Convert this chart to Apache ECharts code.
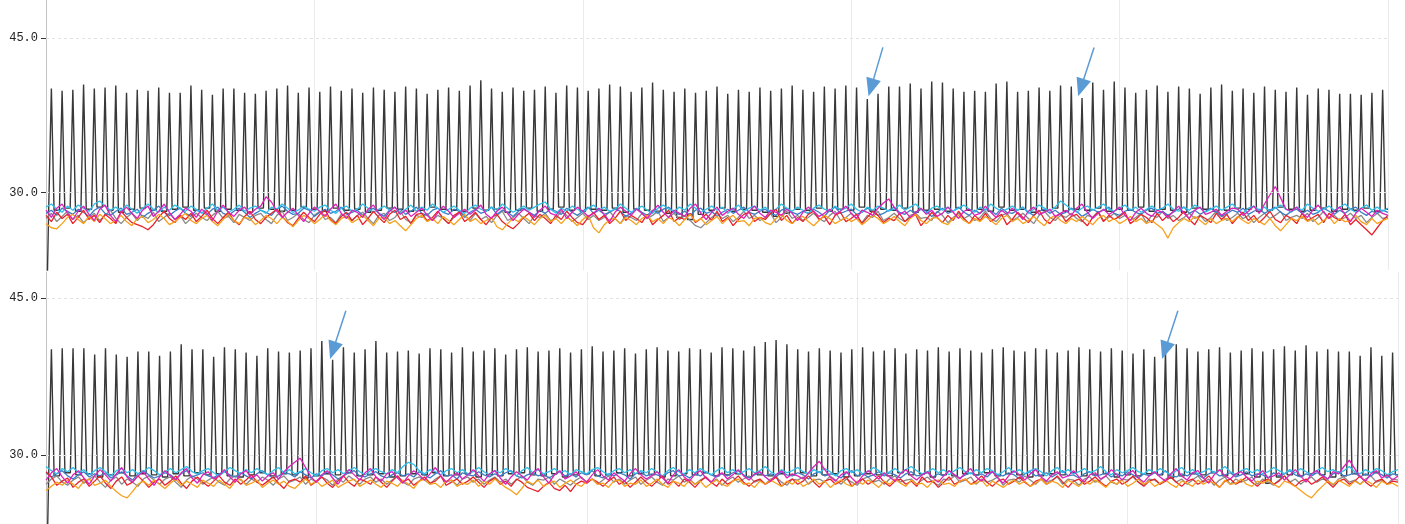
<!DOCTYPE html>
<html><head><meta charset="utf-8">
<script src="https://cdn.jsdelivr.net/npm/echarts@6/dist/echarts.min.js"></script>
<style>html,body{margin:0;padding:0;background:#fff}#c{width:1405px;height:524px}</style>
</head><body><div id="c"></div>
<script>
// ---------- y tick labels ----------
const yTickValues = [30, 45];

// ---------- TOP PANEL ----------
const blackStartTop = 15;
const peaksTop = [
40.1,39.9,40.0,40.5,40.1,40.2,40.4,39.7,40.0,39.9,40.2,39.7,39.7,40.4,40.0,39.5,40.1,40.1,39.7,39.6,39.9,40.1,40.4,39.7,
40.2,39.8,40.3,39.9,40.1,39.7,40.2,40.0,39.8,40.3,40.1,39.6,40.0,40.2,39.9,40.4,40.9,40.1,39.8,40.2,39.9,40.0,40.3,39.7,40.4,40.2,
39.9,40.1,40.5,40.3,39.8,40.2,40.7,40.0,39.8,40.1,39.7,39.9,40.3,39.6,40.0,39.8,40.2,39.9,40.1,40.4,40.0,39.8,40.3,40.1,
40.4,40.2,39.1,39.6,40.3,40.3,40.6,40.1,40.8,40.7,40.1,39.8,39.9,39.8,40.6,40.8,39.8,39.9,40.2,39.9,40.4,40.3,39.2,40.7,40.0,40.8,
40.2,39.7,40.0,40.4,39.8,40.3,40.1,39.6,40.2,40.5,39.9,40.1,39.7,40.3,40.0,39.8,40.2,
39.5,40.1,40.0,39.6,39.6,39.5,39.7,40.0];
const lowsTop = [
28.4,28.3,28.5,28.2,28.4,28.6,28.3,28.1,28.4,28.5,
28.3,28.2,28.4,28.6,28.3,28.5,28.2,28.4,28.3,28.1,
28.5,28.4,28.2,28.3,28.6,28.4,28.2,28.5,28.3,28.4,
28.1,28.3,28.5,28.4,28.2,28.3,28.6,28.4,28.3,28.2,
28.5,28.3,28.4,28.1,28.3,28.5,28.2,28.4,28.6,28.3,
28.2,28.4,28.3,28.5,28.1,28.4,28.3,28.2,28.0,27.6,
27.4,27.9,28.3,28.5,28.2,28.4,28.3,28.1,27.7,28.0,
28.4,28.3,28.5,28.2,28.4,28.3,28.6,28.2,28.4,28.3,
28.5,28.1,28.3,28.4,28.2,28.5,28.3,28.4,28.2,28.6,
28.3,28.4,28.1,28.3,28.5,28.2,28.4,28.3,28.5,28.2,
28.4,28.3,28.6,28.2,28.4,28.3,28.1,28.5,28.4,28.2,
28.3,28.5,28.4,28.2,28.3,28.6,28.4,28.2,28.3,28.5,
28.2,28.4,28.3,28.5,28.2,28.4];
const redTop = [
27.8,27.2,28.1,27.5,27.9,27.0,27.6,28.3,27.4,27.8,
27.1,27.9,27.5,27.0,28.2,27.6,27.1,26.9,26.7,26.4,
26.9,27.6,28.2,27.5,27.1,27.8,27.4,28.0,27.2,27.7,
28.3,27.5,27.0,27.6,28.1,27.3,26.9,27.7,28.2,27.4,
27.0,27.6,28.0,28.4,27.7,27.1,26.8,27.5,28.1,27.6,
27.2,27.9,28.3,27.4,27.0,27.7,28.1,27.3,27.8,26.9,
27.5,28.2,27.6,27.1,27.9,28.3,27.4,27.7,27.0,27.9,
28.0,27.3,27.6,28.2,27.5,27.0,27.8,28.1,27.2,27.6,
28.1,27.4,26.9,27.6,27.9,27.2,26.8,26.5,27.0,27.6,
28.0,27.3,27.9,27.5,27.0,27.8,27.4,28.2,27.6,27.1,
26.9,27.6,28.1,27.4,27.8,27.0,27.5,28.2,27.3,27.8,
27.5,27.1,27.9,26.9,27.4,27.8,28.3,27.2,27.6,27.4,
28.0,27.1,27.5,27.9,27.3,28.2,27.2,27.6,26.8,27.4,
27.9,28.1,27.2,27.6,27.4,28.0,28.4,27.3,27.8,27.0,
27.6,27.2,27.9,28.2,27.4,27.7,26.9,27.8,28.1,27.2,
27.5,27.9,27.0,27.6,28.2,27.8,27.1,27.5,27.3,28.0,
27.2,27.6,27.9,26.8,27.4,28.1,27.6,27.1,27.8,27.3,
28.2,27.5,27.0,27.8,27.3,28.0,27.2,27.6,27.9,26.9,
27.4,28.1,27.6,27.1,27.8,28.3,27.4,27.0,27.6,28.0,
27.2,27.7,27.9,27.3,26.8,27.6,28.1,27.2,27.8,27.4,
27.7,28.1,27.0,27.4,27.9,27.6,27.1,28.0,27.3,27.8,
27.2,27.6,28.2,27.4,26.9,27.8,27.5,27.1,28.0,27.4,
27.9,27.0,27.6,28.1,27.3,27.8,27.1,27.6,28.2,27.4,
27.1,27.8,27.5,27.0,28.0,27.3,27.6,27.9,27.1,28.0,
27.6,27.3,27.9,26.9,27.4,26.9,26.4,25.9,26.6,27.3,
27.8];
const orangeTop = [
27.0,26.6,26.5,27.0,27.6,27.9,27.4,27.0,27.7,27.2,
27.9,27.5,27.0,27.3,27.8,27.2,26.8,27.5,27.7,27.1,
27.4,27.9,27.5,26.9,27.2,27.6,28.0,27.3,27.0,27.5,
27.8,27.2,26.8,27.4,27.9,27.3,27.0,27.6,27.5,26.9,
27.3,27.8,27.5,27.0,27.6,27.2,26.7,27.3,27.8,27.5,
27.0,27.4,27.9,27.3,26.9,27.5,27.7,27.1,27.4,27.8,
27.3,26.8,27.5,27.6,27.0,27.3,26.8,26.3,26.9,27.5,
27.8,27.2,27.5,27.0,27.7,27.3,26.9,27.4,27.9,27.2,
27.5,27.0,27.3,27.6,26.7,26.4,27.0,27.5,27.2,27.7,
27.3,26.9,27.5,27.8,27.2,27.5,27.0,27.6,27.3,26.8,
27.4,27.8,26.6,26.1,26.9,27.4,27.5,27.0,27.6,27.3,
26.9,27.5,27.8,27.2,27.5,27.0,27.6,27.3,26.8,27.4,
27.9,27.2,27.5,26.9,27.3,27.7,27.0,27.5,27.8,27.2,
27.3,26.8,27.5,27.6,27.1,26.9,27.5,27.9,27.3,27.0,
27.5,27.7,27.2,26.8,27.3,27.8,27.5,27.0,27.3,27.6,
27.2,27.5,26.9,27.3,27.8,27.5,27.0,27.3,27.7,27.2,
26.8,27.5,27.9,27.3,27.0,27.5,27.6,27.1,26.9,27.5,
27.8,27.3,27.0,27.5,27.2,27.7,27.3,26.9,27.5,27.8,
27.2,27.5,27.0,27.3,27.7,27.2,26.8,27.5,27.8,27.3,
27.0,27.5,27.2,27.7,27.3,26.9,27.5,27.8,27.2,27.5,
27.0,27.3,27.7,27.2,27.5,27.0,27.3,26.9,26.5,25.6,
26.6,27.1,27.5,27.2,27.7,27.3,26.9,27.5,27.0,27.3,
27.5,27.2,27.7,27.3,27.0,27.5,27.2,26.9,27.5,26.8,
26.3,26.9,27.5,27.3,27.7,27.2,27.5,26.9,27.3,27.7,
27.0,27.5,27.2,27.3,27.8,27.2,26.9,27.5,27.0,27.3,
27.5];
const magentaTop = [
28.3,27.6,28.5,28.9,28.0,27.4,28.2,28.7,27.9,27.3,
28.4,28.8,27.8,27.2,28.1,28.6,28.0,27.5,28.3,28.7,
27.7,28.2,28.9,28.1,27.4,27.9,28.5,28.2,27.6,28.4,
28.0,27.3,28.2,28.8,28.1,27.7,28.3,28.6,27.9,28.4,
28.7,29.6,29.1,28.2,27.6,28.1,28.5,27.8,27.2,28.0,
28.6,28.2,27.7,28.4,28.9,28.0,27.5,28.3,28.1,27.6,
28.4,28.8,28.0,27.4,28.2,28.6,27.9,28.3,27.7,28.1,
28.5,27.8,27.3,28.1,28.7,28.2,27.6,28.0,28.4,27.9,
28.3,28.8,27.9,27.5,28.2,28.6,28.0,27.3,27.9,28.4,
28.1,27.6,28.3,28.7,28.0,27.8,28.4,27.5,28.1,28.6,
28.2,27.7,28.0,28.5,27.9,27.2,28.1,28.6,28.2,27.8,
28.4,28.0,27.5,28.2,28.8,28.1,27.6,28.3,28.0,27.7,
28.5,28.9,28.0,27.4,28.1,28.6,27.8,28.2,28.5,27.9,
27.5,28.2,28.7,28.0,27.6,28.3,28.1,27.8,28.4,28.0,
27.3,28.1,28.6,28.2,27.7,28.0,28.4,27.9,28.2,28.7,
28.0,27.5,28.3,28.1,27.8,28.5,29.0,29.4,28.6,27.9,
28.2,27.6,28.1,28.5,27.9,28.3,27.7,28.0,28.6,28.1,
27.5,28.2,28.4,27.8,28.0,28.7,28.1,27.6,28.3,27.9,
28.5,28.0,27.4,28.2,28.6,27.9,28.1,28.4,27.7,28.0,
28.3,27.8,28.5,28.9,28.1,27.5,28.0,28.4,27.9,28.2,
28.6,27.8,27.3,28.1,28.5,28.0,27.7,28.3,28.1,27.6,
28.2,28.7,28.0,27.5,28.3,28.6,27.9,28.1,28.4,27.8,
28.2,28.5,28.4,27.8,28.2,28.7,28.0,28.9,29.8,30.6,
29.5,28.4,28.2,28.6,28.0,27.6,28.3,28.8,28.1,27.5,
28.2,28.6,27.9,27.2,28.0,28.5,28.1,27.7,28.3,28.0,
27.8];
const cyanTop = [
28.6,28.9,28.4,28.1,28.7,28.3,28.8,28.5,28.2,28.9,
29.2,28.7,28.3,28.6,28.2,28.8,28.4,28.0,28.5,28.9,
28.4,28.1,28.6,28.3,28.8,28.5,28.2,28.7,28.4,28.0,
28.5,28.9,28.3,28.6,28.1,28.4,28.8,28.2,28.5,28.7,
28.3,28.0,28.6,28.4,28.9,28.5,28.1,28.3,28.7,28.4,
28.2,28.6,28.8,28.3,28.0,28.5,28.7,28.2,28.4,28.9,
28.5,28.1,28.4,28.7,28.3,28.6,28.0,28.4,28.8,28.2,
28.6,28.3,28.9,28.5,28.1,28.4,28.7,28.3,28.0,28.5,
28.8,28.4,28.2,28.6,28.3,28.9,28.5,28.1,28.4,28.7,
28.3,28.6,28.9,29.1,28.4,28.0,28.5,28.2,28.7,28.4,
28.1,28.5,28.8,28.3,28.6,28.2,28.4,28.9,28.5,28.1,
28.4,28.7,28.3,28.0,28.5,28.8,28.4,28.2,28.6,28.3,
28.9,28.5,28.1,28.4,28.7,28.3,28.6,28.0,28.4,28.8,
28.2,28.5,28.7,28.3,28.6,28.1,28.4,28.9,28.5,28.2,
28.6,28.3,28.0,28.5,28.8,28.4,28.2,28.7,28.3,28.5,
28.9,28.4,28.1,28.6,28.3,28.7,28.5,28.2,28.4,28.8,
28.3,28.6,28.9,28.4,28.0,28.5,28.7,28.3,28.6,28.2,
28.5,28.8,28.4,28.1,28.6,28.3,28.9,28.5,28.2,28.4,
28.7,28.3,28.6,28.0,28.4,28.8,28.5,28.2,28.6,29.2,
28.8,28.4,28.1,28.5,28.7,28.3,28.6,28.9,28.4,28.2,
28.5,28.8,28.3,28.6,28.1,28.4,28.7,28.3,28.5,28.9,
28.4,28.2,28.6,28.3,28.8,28.5,28.1,28.4,28.7,28.3,
28.6,28.9,28.4,28.0,28.5,28.7,28.3,28.6,28.2,28.5,
28.8,28.4,28.1,28.6,28.3,28.9,28.5,28.2,28.4,28.7,
28.3,28.6,28.9,28.4,28.1,28.5,28.8,28.3,28.6,28.2,
28.5];
const blueTop = [
28.0,28.3,27.8,28.5,28.2,27.9,28.4,28.1,27.7,28.3,
28.6,28.0,27.8,28.2,28.5,27.9,28.1,28.4,27.6,28.0,
28.3,28.7,28.1,27.8,28.2,28.5,28.0,27.7,28.3,28.1,
27.9,28.4,28.6,28.0,27.8,28.2,28.5,28.1,27.6,28.0,
28.3,28.1,27.8,28.4,28.7,28.2,27.9,28.0,28.5,28.3,
27.7,28.1,28.4,28.0,28.2,28.6,27.9,28.1,28.3,27.8,
28.2,28.5,28.0,27.7,28.3,28.1,28.4,27.9,28.2,28.6,
28.0,27.8,28.3,28.5,28.1,27.9,28.4,28.2,27.6,28.1,
28.4,28.0,28.2,28.6,27.9,28.3,28.1,27.7,28.2,28.5,
28.1,27.8,28.3,28.0,28.4,28.2,27.9,28.5,28.1,27.8,
28.2,28.6,28.0,28.3,27.9,28.1,28.4,28.2,27.7,28.0,
28.5,28.1,27.8,28.3,28.0,28.4,28.6,28.1,27.9,28.2,
27.8,28.3,28.5,28.0,28.2,27.7,28.1,28.4,28.0,28.3,
28.6,28.1,27.9,28.2,28.4,28.0,27.8,28.3,28.5,28.1,
27.9,28.2,28.0,28.4,28.1,27.7,28.3,28.6,28.0,28.2,
28.4,27.9,28.1,28.5,28.2,27.8,28.0,28.3,28.6,28.1,
27.9,28.3,28.0,28.4,28.2,27.7,28.1,28.5,28.0,28.2,
28.6,28.1,27.8,28.3,28.0,28.4,28.2,27.9,28.5,28.1,
28.0,28.3,28.6,28.1,27.8,28.2,28.4,28.0,28.3,27.9,
28.1,28.5,28.2,27.7,28.0,28.4,28.1,28.3,28.6,28.0,
27.8,28.2,28.4,28.1,27.9,28.3,28.5,28.0,28.2,27.8,
28.1,28.4,28.6,28.0,28.3,27.9,28.2,28.5,28.1,27.7,
28.0,28.3,28.1,28.5,27.9,28.2,28.4,28.0,28.3,28.6,
28.1,27.8,28.2,28.4,28.0,28.3,27.9,28.1,28.5,28.2,
27.9,28.3,28.0,28.4,28.6,28.1,27.8,28.2,28.0,28.3,
28.1];
const grayTop = [
27.5,28.0,27.2,27.7,28.2,27.4,27.8,27.1,27.6,28.0,
27.3,27.8,28.3,27.5,27.0,27.6,28.0,27.3,27.8,27.5,
28.1,27.2,27.6,28.0,27.4,27.8,27.0,27.5,28.0,27.6,
27.3,27.8,28.2,27.5,27.7,27.1,27.9,27.6,27.3,27.8,
28.0,27.4,27.0,27.8,28.2,27.3,27.6,28.0,27.4,27.1,
27.8,28.2,27.4,27.6,27.1,27.9,27.7,27.3,27.8,28.1,
27.5,27.0,27.8,28.0,27.3,27.6,28.2,27.4,27.1,27.8,
27.6,28.0,27.3,27.8,27.5,27.0,27.6,28.2,27.8,27.3,
28.0,27.4,27.7,27.1,27.8,28.2,27.3,27.6,28.0,27.5,
27.0,27.8,27.6,28.0,27.3,27.5,28.2,27.8,27.2,27.6,
28.0,27.4,27.8,27.3,27.6,28.2,27.5,27.0,27.8,27.6,
27.3,28.0,27.5,27.8,28.2,27.2,27.6,28.0,27.4,27.8,
27.3,26.8,26.6,27.1,27.6,28.0,27.5,27.8,27.2,27.6,
28.2,27.5,27.8,27.3,27.6,28.0,27.1,27.6,28.2,27.5,
27.8,27.3,27.6,28.0,27.5,27.2,27.8,28.2,27.3,27.6,
28.0,27.5,27.1,27.8,27.6,28.2,27.3,27.6,28.0,27.5,
27.2,27.8,28.0,27.5,27.6,27.3,28.2,27.8,27.1,27.6,
28.0,27.5,27.8,27.3,27.6,28.2,27.5,27.2,27.8,28.0,
27.3,27.6,28.0,27.5,27.0,27.8,28.2,27.6,27.3,27.8,
27.6,28.0,27.5,27.2,27.8,27.6,28.2,27.3,27.6,28.0,
27.5,27.8,27.3,27.6,28.0,27.1,27.8,27.6,28.2,27.5,
27.8,27.3,27.6,28.0,27.5,27.8,27.2,27.6,28.2,27.8,
27.3,27.6,28.0,27.5,27.8,27.1,27.6,28.0,27.5,27.8,
28.2,27.3,27.6,27.8,27.5,28.0,27.2,27.6,28.2,27.5,
27.8,27.3,27.6,28.0,27.5,27.8,27.1,27.6,28.0,27.5,
27.6];
// arrow annotations (x index, y value): tail -> head
const arrowsTop = [[[311.8,44.1],[307.4,40.2]], [[390.5,44.1],[385.6,40.2]]];

// ---------- BOTTOM PANEL ----------
const blackStartBottom = 15;
const peaksBottom = [
40.1,40.2,40.2,40.2,39.6,40.2,39.6,39.4,39.9,39.9,39.5,39.9,40.6,40.1,40.1,39.4,40.3,40.1,39.8,39.5,40.2,39.9,39.8,
40.0,
40.2,40.9,39.1,40.3,39.8,40.1,40.9,39.8,39.9,
40.0,39.7,40.2,40.1,39.8,40.3,39.9,40.0,40.2,39.6,
40.1,40.3,39.9,40.0,40.2,39.8,40.1,40.4,39.9,40.0,
40.2,39.7,40.1,40.3,40.0,39.9,40.2,40.1,39.8,40.3,
40.2,40.0,40.4,40.8,41.0,40.6,40.1,39.9,40.2,40.0,
39.8,40.1,40.3,39.9,40.0,40.2,39.7,40.1,40.0,40.3,
39.9,40.2,40.0,39.8,40.1,40.3,40.0,39.9,40.2,40.1,
39.8,40.0,40.3,40.1,39.9,40.2,40.0,39.7,40.1,
39.4,39.9,40.6,
40.2,39.9,40.1,40.3,39.8,40.0,40.2,39.9,40.1,40.4,40.0,
40.5,39.9,40.1,39.9,39.9,39.5,40.3,39.5,39.8];
const lowsBottom = [
28.2,28.0,28.3,28.1,28.2,27.9,28.1,28.3,28.0,28.2,
28.1,27.9,28.2,28.0,28.3,28.1,28.2,28.0,27.9,28.1,
28.3,28.0,28.2,28.1,27.8,28.0,28.2,28.1,28.3,28.0,
28.1,28.2,27.9,28.0,28.2,28.1,28.3,28.0,28.1,28.2,
27.9,28.1,28.0,28.2,28.3,28.1,28.0,28.2,27.9,28.1,
28.2,28.0,28.1,28.3,28.0,28.2,28.1,27.9,28.0,28.2,
28.1,28.3,28.0,28.1,28.2,27.9,28.1,28.0,28.2,28.1,
28.3,28.0,28.1,28.2,27.9,28.0,28.2,28.1,28.0,28.3,
28.1,28.2,27.9,28.1,28.0,28.2,28.1,28.3,28.0,28.2,
28.1,27.9,28.0,28.2,28.1,28.3,28.0,28.1,28.2,27.9,
28.1,28.0,28.2,28.1,27.8,28.0,28.2,28.1,28.3,28.0,
28.1,28.2,27.9,27.3,27.9,28.1,28.0,28.2,28.1,27.9,
28.0,28.2,28.1,28.3,28.0,28.1];
const redBottom = [
28.4,27.9,27.1,27.5,27.8,26.9,27.4,27.7,27.0,27.5,
28.0,27.3,26.8,27.5,27.9,27.1,27.4,28.0,27.5,26.9,
27.4,27.7,27.1,27.5,28.0,27.3,26.8,27.5,27.9,27.4,
27.0,27.5,28.0,27.4,27.1,27.7,27.2,27.6,28.1,27.4,
27.1,27.5,27.9,27.3,26.8,27.5,27.7,27.4,28.0,27.1,
27.5,27.9,27.3,26.9,27.5,28.0,27.4,27.0,27.7,27.5,
27.2,27.9,27.4,26.9,27.5,28.0,27.4,27.7,27.1,27.5,
27.9,27.3,27.5,28.0,27.1,27.4,27.7,27.2,27.5,27.9,
27.4,26.9,27.5,27.8,27.2,27.5,27.0,27.7,27.4,26.9,
26.7,26.5,27.0,27.4,26.8,26.6,27.1,26.5,27.2,27.5,
27.3,27.7,27.4,27.0,27.5,27.9,27.2,27.5,26.9,27.4,
27.9,27.4,27.0,27.5,28.0,27.2,27.5,27.0,27.7,27.4,
26.9,27.5,27.9,27.4,27.0,27.7,27.2,27.5,28.0,27.4,
27.0,27.5,27.7,27.2,27.5,27.9,27.0,27.4,27.7,27.2,
27.5,28.0,27.4,26.9,27.5,27.7,27.2,27.5,27.9,27.0,
27.4,27.7,27.2,27.5,28.0,27.4,27.0,27.5,27.7,27.2,
27.5,27.0,27.9,27.4,27.5,26.9,27.4,27.9,27.2,27.5,
27.7,27.2,27.5,28.0,27.4,27.0,27.5,27.7,27.2,27.5,
27.9,27.4,27.0,27.5,27.7,27.2,27.5,28.0,27.4,26.9,
27.5,27.7,27.2,27.5,27.9,27.4,27.0,27.5,27.7,27.2,
27.5,28.0,27.4,27.0,27.5,27.7,27.2,27.5,27.9,27.4,
27.0,27.5,27.7,27.2,27.5,28.0,27.4,26.9,27.5,27.7,
27.2,27.5,27.9,27.4,27.0,27.5,27.7,27.2,27.5,28.0,
27.4,27.0,27.5,27.7,27.2,27.5,27.9,27.4,26.9,27.5,
27.7,27.2,27.5,28.0,27.4,27.0,27.5,27.7,27.2,27.5,
27.4];
const orangeBottom = [
26.6,27.0,27.4,27.1,27.6,27.2,26.8,27.5,27.7,27.1,
27.3,27.6,27.0,26.5,26.1,25.9,26.5,27.2,27.5,27.1,
27.6,27.2,26.8,27.3,27.7,27.1,27.5,27.2,26.9,27.6,
27.3,27.0,27.6,27.2,26.8,27.5,27.7,27.1,27.3,27.6,
26.9,27.3,27.6,27.2,27.5,27.0,26.8,27.3,27.7,27.2,
27.5,27.0,27.3,27.6,26.9,27.2,27.5,27.7,27.0,27.3,
27.6,27.2,26.9,27.5,27.3,27.0,27.6,27.2,26.8,27.5,
27.7,27.2,27.3,26.9,27.5,27.6,27.0,27.3,27.2,27.6,
27.0,27.5,27.2,27.7,27.3,26.9,26.6,26.2,26.8,27.5,
27.2,27.6,27.0,27.3,27.5,26.9,27.3,27.6,27.2,27.0,
27.5,27.7,27.2,27.3,26.9,27.5,27.6,27.0,27.3,27.2,
27.6,27.0,27.3,27.7,27.2,26.9,27.5,27.3,27.0,27.6,
27.2,27.5,26.9,27.3,27.6,27.2,27.0,27.5,27.7,27.2,
27.3,26.9,27.5,27.2,27.6,27.3,27.0,27.5,27.2,27.6,
27.0,27.3,27.7,27.2,27.5,26.9,27.3,27.6,27.2,27.0,
27.5,27.2,27.6,27.3,26.9,27.5,27.2,27.7,27.3,27.0,
27.6,27.2,27.3,26.9,27.5,27.6,27.2,27.3,27.0,27.5,
27.7,27.2,27.3,27.6,27.0,27.5,27.2,26.9,27.3,27.6,
27.2,27.5,27.0,27.3,27.7,27.2,27.5,27.3,26.9,27.6,
27.3,27.0,27.5,27.2,27.6,27.3,26.9,27.5,27.2,27.6,
27.0,27.3,27.7,27.2,27.5,27.0,27.3,27.6,27.2,26.9,
27.5,27.3,27.0,27.6,27.2,27.5,27.3,26.9,27.6,27.2,
27.3,27.7,27.2,27.0,27.5,27.3,27.6,27.2,26.9,27.5,
27.3,27.0,26.6,26.2,25.9,26.5,27.0,27.5,27.2,27.6,
27.3,27.0,27.5,27.2,27.6,27.3,26.9,27.5,27.2,27.3,
27.0];
const magentaBottom = [
27.6,28.3,28.7,27.9,27.3,28.1,28.5,27.8,27.2,28.0,
28.6,28.1,27.5,28.2,28.8,27.9,27.4,28.0,28.4,27.7,
27.1,27.9,28.5,28.0,27.6,28.3,28.7,27.8,27.3,28.1,
28.4,27.7,28.0,28.6,27.9,27.4,28.2,28.5,27.8,28.1,
27.5,28.0,28.3,27.7,28.4,28.9,29.3,29.7,28.8,27.9,
27.4,28.1,28.5,27.8,27.2,28.0,28.6,28.1,27.6,28.3,
28.7,27.9,27.5,28.2,28.4,27.8,27.3,28.0,28.5,28.1,
27.6,28.2,28.8,28.0,27.4,27.9,28.3,27.7,28.1,28.6,
28.0,27.5,28.2,28.5,27.8,27.2,27.9,28.4,28.0,27.6,
28.3,28.7,27.9,27.3,28.1,28.5,27.7,28.0,28.4,27.8,
27.4,28.1,28.6,28.0,27.6,28.3,27.9,27.5,28.2,28.7,
28.1,27.7,28.0,28.4,27.8,27.3,28.1,28.6,27.9,27.5,
28.2,28.5,27.8,27.4,28.0,28.3,27.7,28.1,28.6,28.0,
27.6,28.2,28.4,27.9,27.5,28.1,28.5,27.8,28.2,28.0,
27.7,28.3,28.9,29.4,28.6,27.9,27.5,28.1,28.4,27.8,
27.3,28.0,28.5,28.1,27.7,28.3,27.9,27.5,28.2,28.6,
28.0,27.6,28.1,28.4,27.8,27.4,28.0,28.5,28.1,27.7,
28.3,28.7,27.9,27.5,28.2,28.4,27.8,27.3,28.0,28.5,
28.1,27.6,28.2,28.6,27.9,27.5,28.1,28.4,27.8,28.0,
28.5,27.9,27.4,28.1,28.3,27.7,28.0,28.6,28.1,27.6,
28.2,28.5,27.8,27.4,28.0,28.4,27.9,27.5,28.2,28.7,
28.0,27.6,28.3,28.5,27.8,27.3,28.1,28.6,28.0,27.7,
28.2,28.4,27.9,27.5,28.1,28.5,27.8,28.0,28.3,27.6,
28.1,28.6,28.0,27.4,28.2,28.5,28.0,27.7,28.4,28.2,
28.9,29.5,28.7,27.9,27.5,28.2,28.5,27.8,28.1,27.6,
28.0];
const cyanBottom = [
28.9,28.5,28.2,28.7,28.4,28.8,28.3,28.6,28.1,28.5,
28.8,28.4,28.0,28.5,28.7,28.3,28.6,28.2,28.4,28.8,
28.5,28.1,28.4,28.7,28.3,28.6,28.9,28.4,28.2,28.5,
28.7,28.3,28.0,28.4,28.8,28.5,28.2,28.6,28.3,28.7,
28.4,28.1,28.5,28.8,28.3,28.6,28.2,28.4,28.7,28.3,
28.0,28.5,28.7,28.3,28.6,28.2,28.5,28.8,28.4,28.1,
28.5,28.7,28.4,28.2,28.6,28.3,28.9,29.3,29.1,28.5,
28.2,28.6,28.4,28.1,28.5,28.7,28.3,28.6,28.2,28.4,
28.8,28.4,28.1,28.5,28.3,28.7,28.4,28.0,28.5,28.8,
28.3,28.6,28.2,28.4,28.7,28.3,28.5,28.1,28.6,28.4,
28.2,28.6,28.8,28.4,28.1,28.5,28.7,28.3,28.6,28.2,
28.5,28.3,28.7,28.4,28.0,28.5,28.8,28.4,28.2,28.6,
28.3,28.7,28.4,28.1,28.5,28.8,28.3,28.6,28.2,28.4,
28.7,28.3,28.5,28.9,28.4,28.1,28.6,28.3,28.5,28.8,
28.4,28.2,28.6,28.3,28.7,28.4,28.0,28.5,28.7,28.3,
28.6,28.2,28.4,28.8,28.5,28.1,28.4,28.7,28.3,28.6,
28.9,28.5,28.2,28.4,28.7,28.3,28.6,28.1,28.5,28.8,
28.4,28.2,28.6,28.3,28.7,28.5,28.1,28.4,28.8,28.3,
28.6,28.2,28.5,28.7,28.4,28.0,28.5,28.8,28.3,28.6,
28.2,28.4,28.7,28.3,28.5,28.9,28.4,28.1,28.6,28.3,
28.5,28.8,28.4,28.2,28.6,28.3,28.7,28.4,28.1,28.5,
28.8,28.3,28.6,28.2,28.4,28.7,28.3,28.5,28.9,28.4,
28.1,28.5,28.7,28.3,28.6,28.2,28.4,28.8,28.5,28.2,
28.6,28.3,28.7,28.4,28.1,28.5,28.8,28.4,28.6,28.2,
28.5,28.9,28.4,28.2,28.6,28.3,28.7,28.5,28.1,28.4,
28.6];
const blueBottom = [
28.3,27.9,28.2,28.5,28.0,27.7,28.1,28.4,27.9,28.2,
28.0,28.3,27.8,28.1,28.4,28.0,27.6,28.2,28.5,28.1,
27.8,28.0,28.3,28.1,27.7,28.2,28.5,27.9,28.1,28.3,
28.0,27.8,28.2,28.4,28.1,27.9,28.3,28.0,27.7,28.2,
28.5,28.1,27.8,28.0,28.3,28.2,27.9,28.4,28.1,27.8,
28.2,28.0,28.4,28.1,27.7,28.0,28.3,28.5,28.0,27.9,
28.2,28.4,28.0,27.8,28.1,28.3,28.0,28.2,27.9,28.4,
28.1,27.8,28.2,28.5,28.0,28.1,27.7,28.3,28.1,28.0,
28.4,28.1,27.9,28.2,28.0,28.3,28.5,28.0,27.8,28.1,
28.3,28.0,28.2,27.8,28.1,28.4,28.0,28.2,27.9,28.3,
28.1,28.5,28.0,27.8,28.2,28.0,28.3,28.1,27.7,28.2,
28.4,28.0,28.2,28.1,27.9,28.3,28.5,28.0,28.1,27.8,
28.2,28.0,28.4,28.1,27.9,28.2,28.0,28.3,28.5,28.1,
27.8,28.1,28.3,28.0,28.2,27.9,28.4,28.1,28.0,28.3,
28.1,27.7,28.2,28.4,28.0,28.2,28.1,27.8,28.3,28.5,
28.0,28.2,27.9,28.1,28.4,28.0,28.3,28.1,27.8,28.2,
28.4,28.0,28.1,28.3,27.9,28.2,28.0,28.5,28.1,27.8,
28.1,28.3,28.0,28.2,27.9,28.4,28.1,28.0,28.3,28.1,
27.7,28.2,28.4,28.0,28.1,28.3,27.9,28.2,28.5,28.0,
28.1,27.8,28.2,28.4,28.0,28.1,28.3,27.9,28.2,28.0,
28.4,28.1,27.8,28.2,28.0,28.3,28.1,28.5,28.0,27.9,
28.2,28.0,28.3,28.1,27.8,28.2,28.4,28.0,28.1,28.3,
27.9,28.1,28.4,28.0,28.2,28.1,27.8,28.3,28.0,28.2,
28.5,28.1,27.9,28.2,28.0,28.3,28.1,27.7,28.2,28.4,
28.0,28.1,28.3,27.9,28.2,28.0,28.4,28.1,27.8,28.2,
28.1];
const grayBottom = [
27.2,27.7,28.0,27.4,27.1,27.6,27.9,27.3,27.7,28.0,
27.4,26.9,27.6,27.9,27.2,27.7,27.4,27.0,27.7,28.0,
27.6,27.2,27.7,27.9,27.4,26.9,27.6,28.0,27.7,27.2,
27.6,27.9,27.4,27.1,27.7,28.0,27.6,27.2,27.7,27.4,
27.9,27.6,27.1,27.7,28.0,27.4,27.6,27.9,27.2,27.7,
27.4,27.9,27.6,27.1,27.7,27.4,28.0,27.6,27.2,27.7,
27.9,27.4,27.7,27.2,27.6,28.0,27.4,27.1,27.7,27.9,
27.6,27.2,27.7,28.0,27.4,27.6,27.1,27.7,27.9,27.4,
27.7,27.2,27.6,27.9,27.4,27.7,27.2,27.6,28.0,27.4,
27.1,27.7,27.6,27.9,27.2,27.7,27.4,27.1,27.6,27.9,
27.4,27.7,27.2,27.6,28.0,27.4,27.7,27.2,27.6,27.9,
27.2,27.6,27.9,27.4,27.1,27.7,27.6,28.0,27.4,27.7,
27.2,27.6,27.9,27.4,27.7,27.1,27.6,27.9,27.4,27.7,
28.0,27.4,27.6,27.2,27.7,27.9,27.4,27.1,27.7,27.6,
27.9,27.2,27.6,27.7,27.4,28.0,27.6,27.2,27.7,27.4,
27.1,27.7,27.9,27.4,27.6,27.2,27.7,28.0,27.4,27.6,
27.7,27.2,27.6,27.9,27.4,27.1,27.7,27.6,28.0,27.4,
27.6,27.9,27.2,27.7,27.4,27.6,27.9,27.1,27.6,27.7,
27.4,28.0,27.6,27.2,27.7,27.4,27.6,27.9,27.2,27.7,
27.6,27.1,27.7,27.9,27.4,27.6,28.0,27.4,27.2,27.7,
27.6,27.9,27.4,27.1,27.7,27.6,27.2,27.7,27.9,27.4,
27.7,27.2,27.6,28.0,27.4,27.7,27.1,27.6,27.9,27.2,
27.7,27.4,27.6,27.9,27.2,27.7,27.4,27.1,27.6,28.0,
27.4,27.7,27.2,27.6,27.9,27.4,27.7,27.6,27.1,27.7,
27.9,27.4,27.6,27.2,27.7,28.0,27.4,27.6,27.2,27.7,
27.6];
const arrowsBottom = [[[110.9,43.8],[106.1,40.0]], [[418.6,43.8],[413.8,40.0]]];

// ---------- build ----------
const SAMPLES_PER_PERIOD = 4, NOISE_STEP = 2, X_MAX = 500;
function blackData(start, peaks, lows) {
  const d = [[0, start]];
  peaks.forEach((p, k) => {
    const b = SAMPLES_PER_PERIOD * k;
    d.push([b + 1, lows[k]], [b + 2, p], [b + 3, lows[k + 1]]);
  });
  d.push([X_MAX, lows[lows.length - 1]]);
  return d;
}
const noise = arr => arr.map((v, i) => [i * NOISE_STEP, v]);

const noiseColors = { gray: '#8a8a8a', blue: '#3b7cc4', cyan: '#2ec0ec', red: '#e8222a', orange: '#f8a01a', magenta: '#dc22b8' };

function panelSeries(idx, start, peaks, lows, sets, arrows) {
  const out = [];
  out.push({
    type: 'line', xAxisIndex: idx, yAxisIndex: idx, data: blackData(start, peaks, lows),
    showSymbol: false, symbol: 'none', lineStyle: { color: '#383838', width: 1.4 }, z: 2,
    markLine: { silent: true, symbol: 'none', label: { show: false },
      lineStyle: { color: '#e2e2e2', type: [3, 3], width: 1 },
      data: yTickValues.map(v => ({ yAxis: v })) }
  });
  sets.forEach(([name, arr]) => {
    out.push({ type: 'line', xAxisIndex: idx, yAxisIndex: idx, data: noise(arr), showSymbol: false, symbol: 'none',
      lineStyle: { color: noiseColors[name], width: 1.3 }, z: 3 });
  });
  out.push({
    type: 'line', xAxisIndex: idx, yAxisIndex: idx, data: [], z: 5,
    markLine: { silent: true, symbol: ['none', 'triangle'], symbolSize: [15, 18], label: { show: false },
      lineStyle: { color: '#5b9bd5', width: 1.5, type: 'solid' },
      itemStyle: { color: '#5b9bd5' },
      data: arrows.map(a => [{ coord: a[0] }, { coord: a[1] }]) }
  });
  return out;
}

const yAxisCommon = {
  type: 'value',
  axisLine: { show: true, lineStyle: { color: '#c4c4c4', width: 1 } },
  axisTick: { show: true, length: 5, customValues: yTickValues, lineStyle: { color: '#333' } },
  axisLabel: { customValues: yTickValues, margin: 8, color: '#222', fontFamily: 'Liberation Mono, DejaVu Sans Mono, monospace', fontSize: 12,
    formatter: v => (yTickValues.indexOf(v) >= 0 ? v.toFixed(1) : '') },
  splitLine: { show: false }
};
const xAxisCommon = {
  type: 'value', min: 0, max: X_MAX, interval: 100,
  axisLine: { show: false }, axisTick: { show: false }, axisLabel: { show: false },
  splitLine: { show: true, lineStyle: { color: '#ebebeb', width: 1 } }
};

const chart = echarts.init(document.getElementById('c'), null, { renderer: 'canvas' });
chart.setOption({
  animation: false,
  backgroundColor: '#fff',
  grid: [
    { left: 46, top: 0, width: 1342, height: 270 },
    { left: 46, top: 272, width: 1352, height: 252 }
  ],
  xAxis: [Object.assign({ gridIndex: 0 }, xAxisCommon), Object.assign({ gridIndex: 1 }, xAxisCommon)],
  yAxis: [Object.assign({ gridIndex: 0, min: 22.5, max: 48.7 }, yAxisCommon), Object.assign({ gridIndex: 1, min: 23.4, max: 47.5 }, yAxisCommon)],
  series: [].concat(
    panelSeries(0, blackStartTop, peaksTop, lowsTop,
      [['gray', grayTop], ['blue', blueTop], ['cyan', cyanTop], ['red', redTop], ['orange', orangeTop], ['magenta', magentaTop]], arrowsTop),
    panelSeries(1, blackStartBottom, peaksBottom, lowsBottom,
      [['gray', grayBottom], ['blue', blueBottom], ['cyan', cyanBottom], ['red', redBottom], ['orange', orangeBottom], ['magenta', magentaBottom]], arrowsBottom)
  )
});
</script></body></html>
